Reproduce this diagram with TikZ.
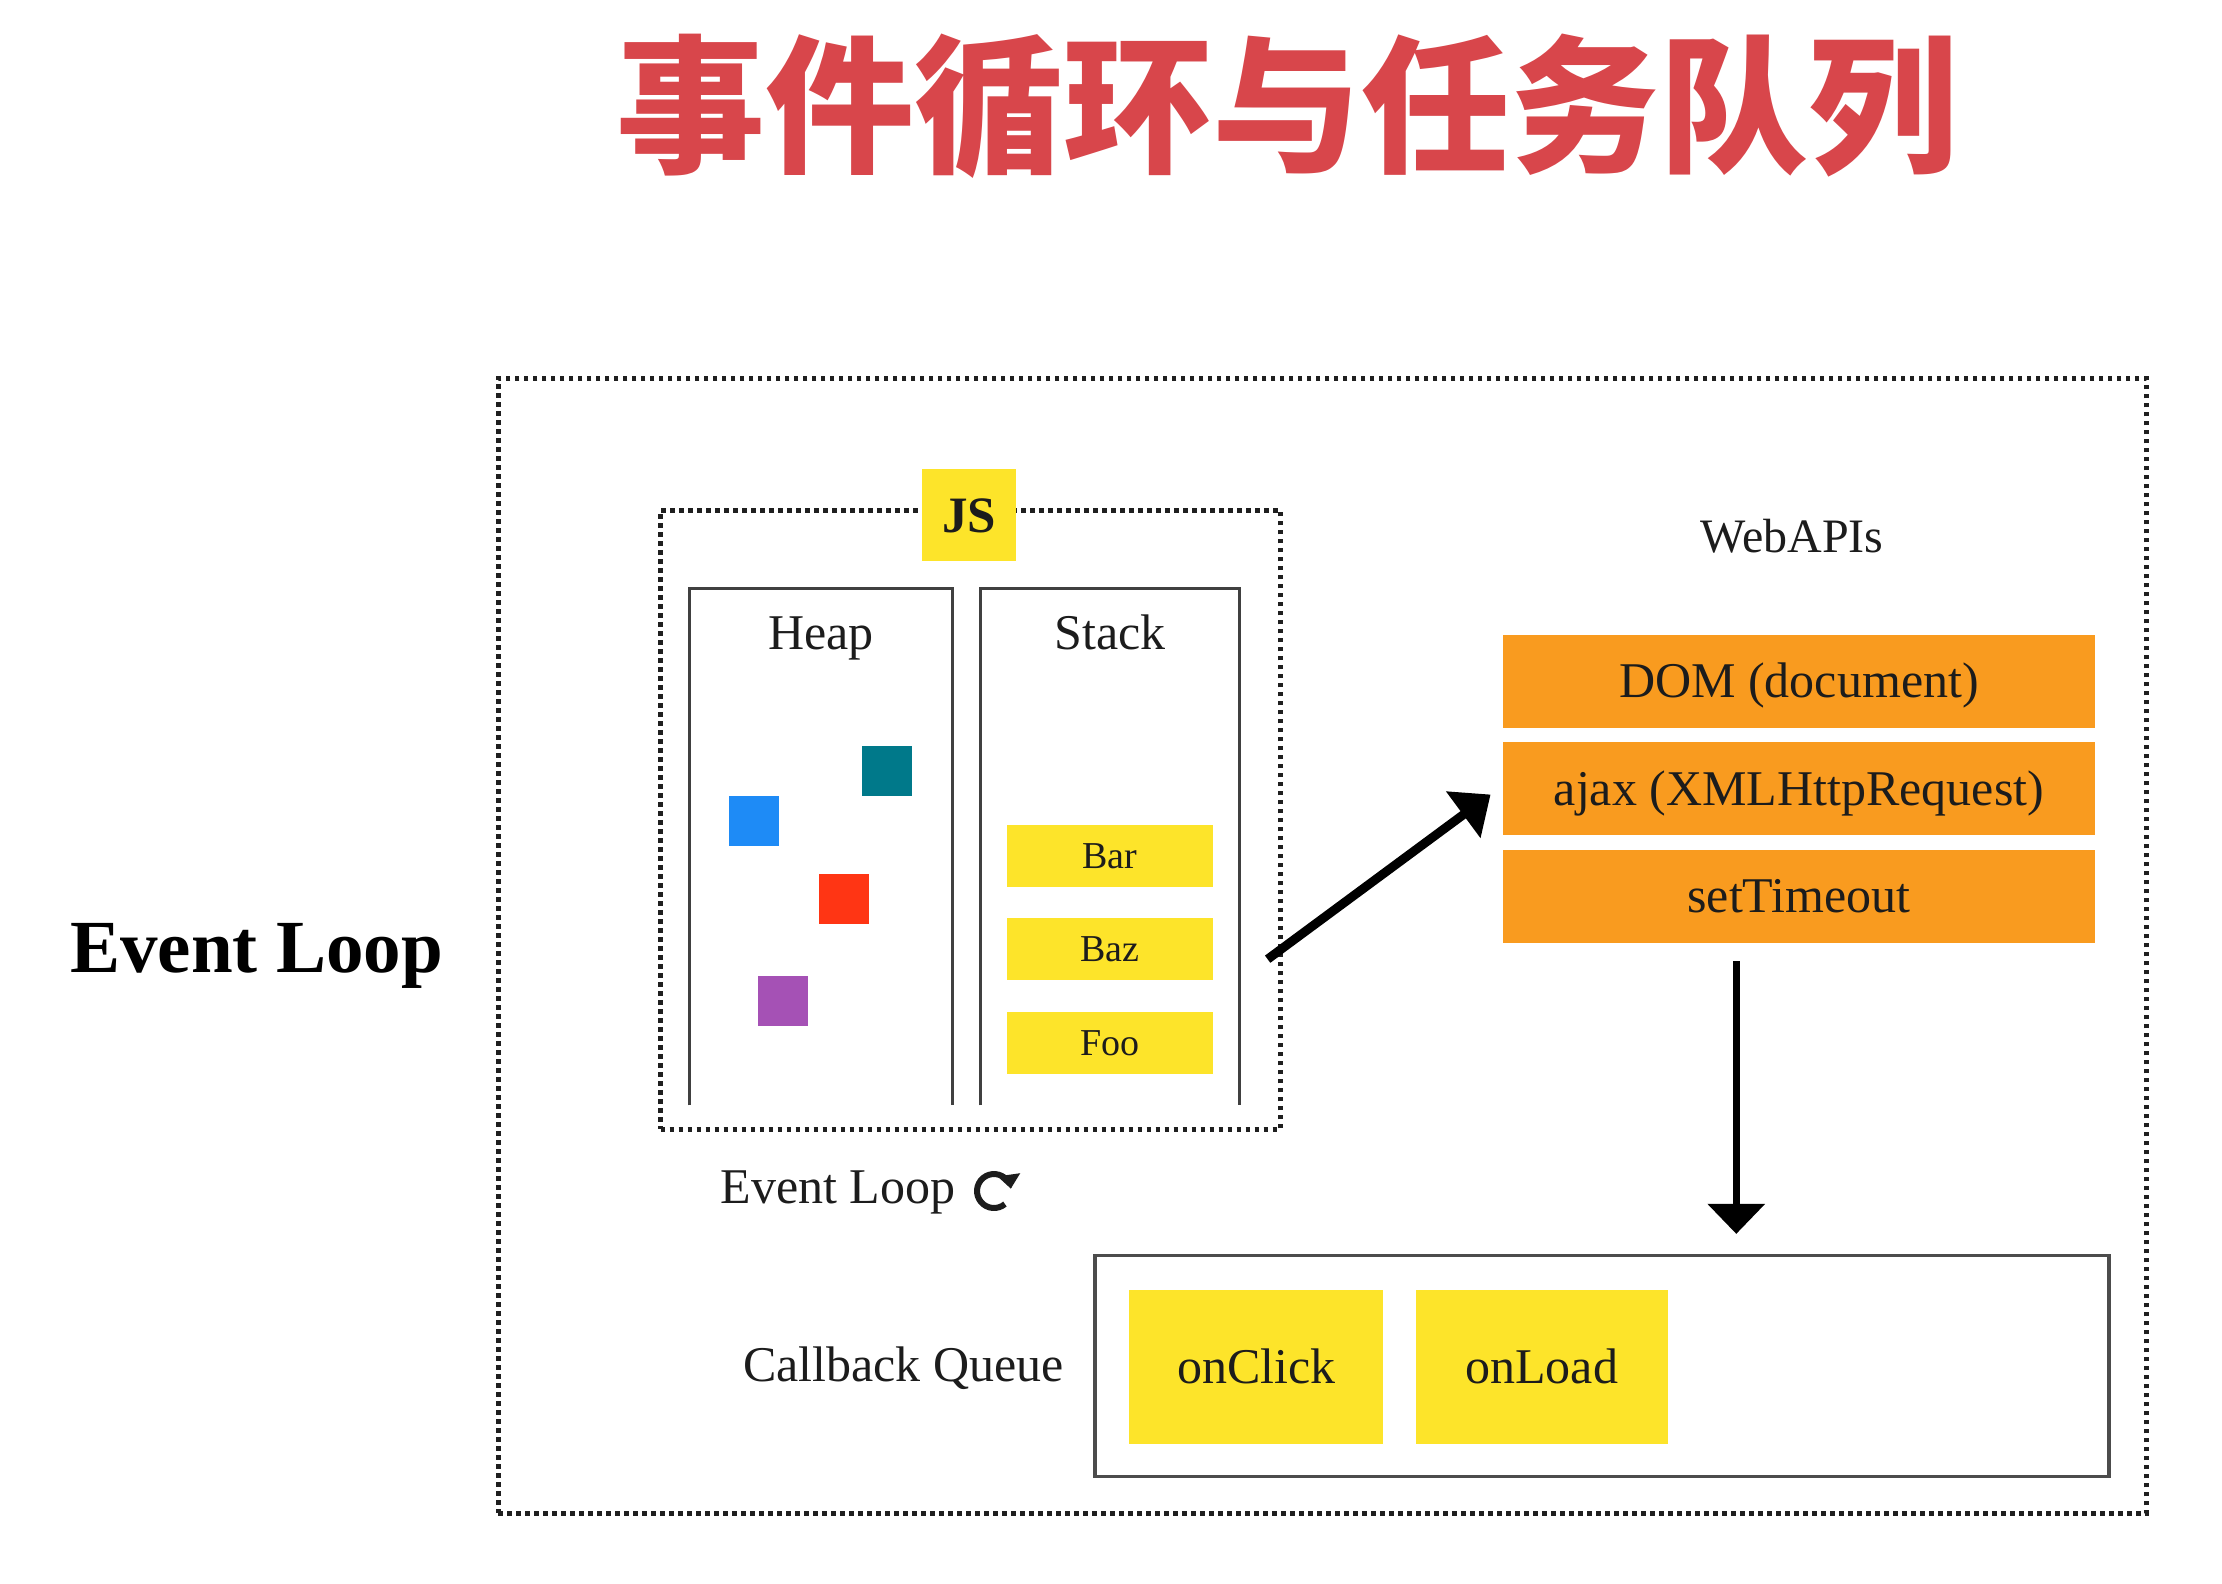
\documentclass[tikz,border=0pt]{standalone}
\usepackage{fontspec}
\setmainfont{Liberation Serif}
\newfontfamily\cjkfont{Noto Sans CJK SC}
\usetikzlibrary{arrows.meta,calc}
\definecolor{titlered}{HTML}{D8464B}
\definecolor{jsyellow}{HTML}{FDE42A}
\definecolor{apiorange}{HTML}{F99B1F}
\definecolor{sqteal}{HTML}{00798A}
\definecolor{sqblue}{HTML}{1E8BF6}
\definecolor{sqred}{HTML}{FF3514}
\definecolor{sqpurple}{HTML}{A551B5}
\definecolor{txt}{HTML}{1C1C1C}
\newcommand\myfs[1]{\fontsize{#1}{#1}\selectfont}
\begin{document}
\begin{tikzpicture}[x=0.4975pt,y=-0.4975pt,
  dotbox/.style={draw=black!88, line width=2.3pt, dash pattern=on 2.2pt off 2.3pt, fill=none, inner sep=0pt},
  panel/.style={draw=black!75, line width=1.5pt},
  label/.style={anchor=base, text=txt, inner sep=0pt, font=\myfs{25}},
  stackitem/.style={fill=jsyellow, minimum width=103pt, minimum height=31pt, inner sep=0pt,
     text=txt, font=\myfs{19}, text height=13.7pt, text depth=1.1pt},
  apibox/.style={fill=apiorange, minimum width=296pt, minimum height=46.5pt, inner sep=0pt,
     text=txt, font=\myfs{25}, text height=18pt, text depth=1.5pt},
  cbitem/.style={fill=jsyellow, minimum height=77pt, inner sep=0pt,
     text=txt, font=\myfs{25}, text height=18pt, text depth=1.5pt},
  heapsq/.style={minimum width=25pt, minimum height=25pt, inner sep=0pt},
  bigarrow/.style={line width=4.5pt, -{Triangle[length=17pt,width=28pt]}},
  downarrow/.style={line width=3.5pt, -{Triangle[length=15pt,width=28pt]}}
]
\useasboundingbox (0,0) rectangle (2233.17,1591.96);
\fill[white] (0,0) rectangle (2233.17,1591.96);

% title
\node (title) at (1293,107) {\cjkfont\bfseries\color{titlered}\myfs{74.5}事件循环与任务队列};

% left label
\node[anchor=base, font=\bfseries\myfs{37.5}, text=black, inner sep=0pt] (evbig) at (258,977) {Event Loop};

% outer dotted frame
\node[dotbox, minimum width=824pt, minimum height=567.5pt] (outer) at (1329,950.5) {};

% JS dotted frame
\node[dotbox, minimum width=310pt, minimum height=309.5pt] (jsbox) at (975.5,824) {};
\node[fill=jsyellow, minimum width=47pt, minimum height=46pt, inner sep=0pt,
      font=\bfseries\myfs{25.5}, text=txt, text height=18pt, text depth=1pt] (js) at (974,518) {JS};

% Heap and Stack panels (open at the bottom)
\draw[panel] (693,1111) -- (693,591) -- (957,591) -- (957,1111);
\draw[panel] (985,1111) -- (985,591) -- (1246,591) -- (1246,1111);
\node[label] (heap) at (825,653) {Heap};
\node[label] (stack) at (1115.5,653) {Stack};

% heap objects
\node[heapsq, fill=sqteal] (sq1) at (891,775) {};
\node[heapsq, fill=sqblue] (sq2) at (758,825) {};
\node[heapsq, fill=sqred] (sq3) at (848,904) {};
\node[heapsq, fill=sqpurple] (sq4) at (787,1006) {};

% stack frames
\node[stackitem] (bar) at (1115.5,860) {Bar};
\node[stackitem] (baz) at (1115.5,954) {Baz};
\node[stackitem] (foo) at (1115.5,1048) {Foo};

% Web APIs
\node[label, font=\myfs{24}] (webapis) at (1801,555) {WebAPIs};
\node[apibox] (dom) at (1808,684.5) {DOM (document)};
\node[apibox] (ajax) at (1808,792.5) {ajax (XMLHttpRequest)};
\node[apibox] (timeout) at (1808,900.5) {setTimeout};

% event loop label and icon
\node[label] (evsmall) at (842,1210) {Event Loop};
\coordinate (icon) at (999,1197);
\draw[line width=3pt, color=txt, -{Triangle[length=7pt,width=11pt]}]
  ([shift={(-50:8.5pt)}]icon) arc[start angle=-50, end angle=-352, radius=8.5pt];

% callback queue
\node[draw=black!70, line width=1.75pt, minimum width=507pt, minimum height=110.5pt, inner sep=0pt] (cq) at (1610,1373) {};
\node[label] (cqlabel) at (908,1388) {Callback Queue};
\node[cbitem, minimum width=127pt] (onclick) at (1262.5,1373.5) {onClick};
\node[cbitem, minimum width=126pt] (onload) at (1549.5,1373.5) {onLoad};

% connectors
\coordinate (a1) at (1274,964);
\draw[bigarrow] (a1) -- ($(ajax.west)+(-6pt,-3pt)$);
\coordinate (d1) at (1745,966);
\draw[downarrow, shorten >=10pt] (d1) -- (d1 |- cq.north);
\end{tikzpicture}
\end{document}
